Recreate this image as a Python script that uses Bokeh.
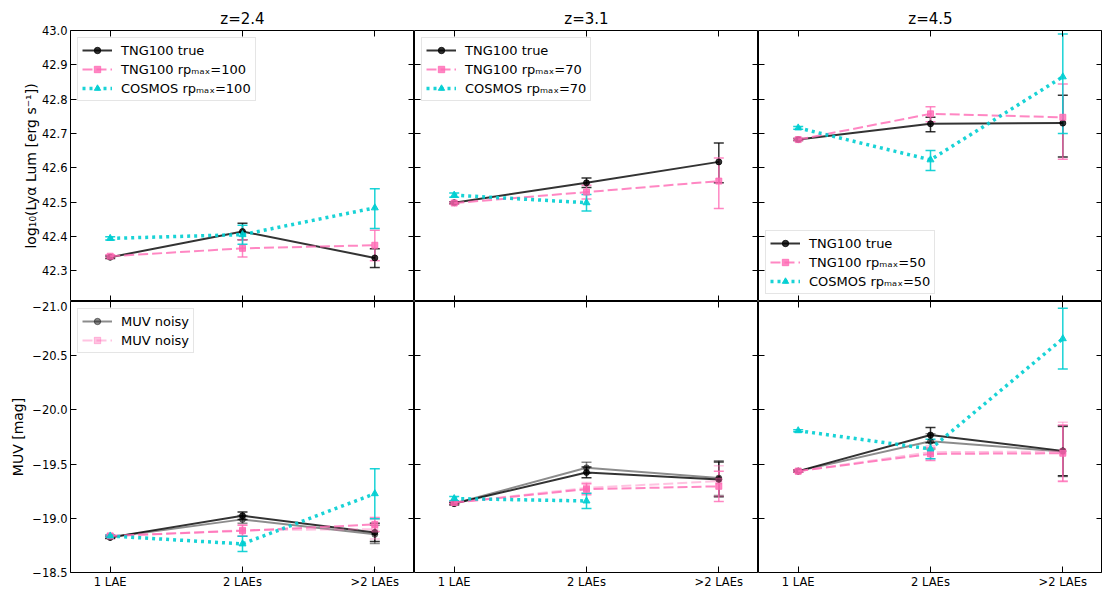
import math
from bokeh.plotting import figure
from bokeh.models import (Range1d, LinearAxis, FixedTicker, ColumnDataSource,
                          Whisker, TeeHead, Legend, LegendItem)
from bokeh.layouts import gridplot
from bokeh.embed import file_html
from bokeh.resources import INLINE

# ---------------- data ----------------
categories = ["1 LAE", "2 LAEs", ">2 LAEs"]
panel_titles = ["z=2.4", "z=3.1", "z=4.5"]
rp_max_values = ["100", "70", "50"]

lum_ticks = [42.3, 42.4, 42.5, 42.6, 42.7, 42.8, 42.9, 43.0]
lum_tick_labels = ["42.3", "42.4", "42.5", "42.6", "42.7", "42.8", "42.9", "43.0"]
muv_ticks = [-21.0, -20.5, -20.0, -19.5, -19.0, -18.5]
muv_tick_labels = ["−21.0", "−20.5", "−20.0", "−19.5", "−19.0", "−18.5"]

nan = float("nan")

# log10(Lya Lum) — one inner list per redshift panel
lum_true = [[42.339, 42.414, 42.337], [42.498, 42.556, 42.617], [42.682, 42.728, 42.730]]
lum_true_lo = [[0.004, 0.024, 0.028], [0.003, 0.014, 0.061], [0.003, 0.023, 0.099]]
lum_true_hi = [[0.004, 0.024, 0.027], [0.003, 0.014, 0.055], [0.003, 0.019, 0.081]]
lum_rp = [[42.342, 42.365, 42.374], [42.497, 42.529, 42.561], [42.682, 42.757, 42.747]]
lum_rp_lo = [[0.004, 0.025, 0.045], [0.003, 0.020, 0.080], [0.003, 0.023, 0.122]]
lum_rp_hi = [[0.004, 0.025, 0.044], [0.003, 0.020, 0.067], [0.003, 0.021, 0.097]]
lum_cosmos = [[42.394, 42.405, 42.483], [42.520, 42.498, nan], [42.716, 42.623, 42.865]]
lum_cosmos_lo = [[0.005, 0.028, 0.060], [0.006, 0.024, nan], [0.004, 0.031, 0.165]]
lum_cosmos_hi = [[0.005, 0.027, 0.056], [0.006, 0.024, nan], [0.004, 0.027, 0.125]]

# MUV [mag]
muv_true = [[-18.824, -19.023, -18.870], [-19.136, -19.423, -19.359], [-19.435, -19.768, -19.622]]
muv_true_err = [[0.01, 0.035, 0.085], [0.01, 0.05, 0.16], [0.01, 0.07, 0.23]]
muv_noisy = [[-18.825, -18.990, -18.852], [-19.136, -19.466, -19.371], [-19.435, -19.710, -19.616]]
muv_noisy_err = [[0.01, 0.035, 0.085], [0.01, 0.05, 0.16], [0.01, 0.07, 0.23]]
muv_rp = [[-18.837, -18.885, -18.943], [-19.145, -19.268, -19.295], [-19.435, -19.594, -19.600]]
muv_rp_err = [[0.01, 0.05, 0.065], [0.01, 0.05, 0.14], [0.01, 0.06, 0.26]]
muv_rp_noisy = [[-18.837, -18.890, -18.900], [-19.145, -19.280, -19.344], [-19.435, -19.610, -19.616]]
muv_rp_noisy_err = [[0.01, 0.05, 0.09], [0.01, 0.05, 0.14], [0.01, 0.06, 0.27]]
muv_cosmos = [[-18.837, -18.764, -19.227], [-19.182, -19.160, nan], [-19.808, -19.640, -20.657]]
muv_cosmos_err = [[0.01, 0.07, 0.23], [0.02, 0.07, nan], [0.01, 0.09, 0.28]]

# ---------------- styling ----------------
FONT = "DejaVu Sans"
FW, FH = 344, 271
LEFT_BORDER, TOP_BORDER = 70, 30
X_LIM = (-0.3, 2.3)
LUM_LIM = (42.21, 43.0)
MUV_LIM = (-18.5, -21.0)

TRUE_C, TRUE_A = "black", 0.8
RP_C, RP_A = "hotpink", 0.8
COS_C, COS_A = "darkturquoise", 0.9
NOISY_C, NOISY_A = "black", 0.45
RPN_C, RPN_A = "hotpink", 0.4


def style_axis(ax, show_labels):
    ax.major_tick_in = 6
    ax.major_tick_out = 0
    ax.minor_tick_line_color = None
    ax.axis_line_color = None
    ax.major_tick_line_color = "black"
    ax.major_tick_line_width = 1
    ax.major_label_text_font = FONT
    ax.major_label_standoff = 3
    ax.major_label_text_font_size = "11.5px"
    ax.major_label_text_color = "black" if show_labels else None
    ax.axis_label_text_font = FONT
    ax.axis_label_text_font_size = "14px"
    ax.axis_label_text_font_style = "normal"
    ax.axis_label_text_color = "black"
    ax.axis_label_standoff = 5


def add_series(p, vals, lo, hi, color, alpha, lw, dash, marker, msize):
    xs = [i for i, v in enumerate(vals) if not math.isnan(v)]
    src = ColumnDataSource(dict(
        x=xs,
        y=[vals[i] for i in xs],
        lower=[vals[i] - lo[i] for i in xs],
        upper=[vals[i] + hi[i] for i in xs],
    ))
    ln = p.line("x", "y", source=src, line_color=color, line_alpha=alpha,
                line_width=lw, line_dash=dash)
    pt = p.scatter("x", "y", source=src, marker=marker, size=msize,
                   fill_color=color, fill_alpha=alpha, line_color=color, line_alpha=alpha)
    head = dict(size=10, line_color=color, line_alpha=alpha, line_width=1.5)
    p.add_layout(Whisker(source=src, base="x", lower="lower", upper="upper",
                         line_color=color, line_alpha=alpha, line_width=1.5,
                         upper_head=TeeHead(**head), lower_head=TeeHead(**head)))
    return [ln, pt]


def make_legend(items, location):
    lg = Legend(items=[LegendItem(label=l, renderers=r) for l, r in items],
                location=location)
    lg.label_text_font = FONT
    lg.label_text_font_size = "13px"
    lg.label_text_color = "black"
    lg.glyph_width = 30
    lg.glyph_height = 16
    lg.label_height = 16
    lg.label_standoff = 9
    lg.spacing = 3
    lg.padding = 4
    lg.margin = 7
    lg.border_line_color = "#cccccc"
    lg.border_line_width = 1
    lg.background_fill_alpha = 0.8
    return lg


def make_panel(row, col):
    top = row == 0
    xr = Range1d(*X_LIM)
    yr = Range1d(*LUM_LIM) if top else Range1d(*MUV_LIM)
    p = figure(frame_width=FW, frame_height=FH, x_range=xr, y_range=yr,
               x_axis_location=None, y_axis_location=None,
               toolbar_location=None, output_backend="svg",
               title=panel_titles[col] if top else None)
    p.min_border = 0
    p.min_border_left = LEFT_BORDER if col == 0 else 0
    p.min_border_top = TOP_BORDER if top else 0
    p.min_border_right = 0
    p.min_border_bottom = 0
    p.xgrid.visible = False
    p.ygrid.visible = False
    p.outline_line_color = "black"
    p.outline_line_width = 1
    p.background_fill_color = "white"
    p.border_fill_color = "white"
    if top:
        p.title.align = "center"
        p.title.text_font = FONT
        p.title.text_font_size = "15px"
        p.title.text_font_style = "normal"
        p.title.text_color = "black"
        p.title.standoff = 5

    yt = lum_ticks if top else muv_ticks
    ytl = lum_tick_labels if top else muv_tick_labels
    x_over = {i: c for i, c in enumerate(categories)}

    # left axis
    la = LinearAxis(ticker=FixedTicker(ticks=yt), major_label_overrides=dict(zip(yt, ytl)))
    style_axis(la, col == 0)
    if col == 0:
        la.axis_label = "log₁₀(Lyα Lum [erg s⁻¹])" if top else "MUV [mag]"
        la.axis_label_standoff = 0 if top else 3
    else:
        la.fixed_location = X_LIM[0]
    p.add_layout(la, "left")
    # right axis (ticks only)
    ra = LinearAxis(ticker=FixedTicker(ticks=yt))
    style_axis(ra, False)
    ra.fixed_location = X_LIM[1]
    p.add_layout(ra, "right")
    # bottom axis
    ba = LinearAxis(ticker=FixedTicker(ticks=list(range(len(categories)))),
                    major_label_overrides=x_over)
    style_axis(ba, not top)
    if top:
        ba.fixed_location = LUM_LIM[0]
    ba.major_label_standoff = 2
    p.add_layout(ba, "below")
    # top axis (ticks only)
    ta = LinearAxis(ticker=FixedTicker(ticks=list(range(len(categories)))))
    style_axis(ta, False)
    ta.fixed_location = LUM_LIM[1] if top else MUV_LIM[1]
    p.add_layout(ta, "above")

    rp_label = "rpₘₐₓ=" + rp_max_values[col]
    if top:
        r_true = add_series(p, lum_true[col], lum_true_lo[col], lum_true_hi[col],
                            TRUE_C, TRUE_A, 2, "solid", "circle", 6)
        r_rp = add_series(p, lum_rp[col], lum_rp_lo[col], lum_rp_hi[col],
                          RP_C, RP_A, 2, "10 4", "square", 6)
        r_cos = add_series(p, lum_cosmos[col], lum_cosmos_lo[col], lum_cosmos_hi[col],
                           COS_C, COS_A, 3.5, "3 4", "triangle", 7)
        items = [("TNG100 true", r_true), ("TNG100 " + rp_label, r_rp),
                 ("COSMOS " + rp_label, r_cos)]
        p.add_layout(make_legend(items, "bottom_left" if col == 2 else "top_left"))
    else:
        r_true = add_series(p, muv_true[col], muv_true_err[col], muv_true_err[col],
                            TRUE_C, TRUE_A, 2, "solid", "circle", 6)
        r_noisy = add_series(p, muv_noisy[col], muv_noisy_err[col], muv_noisy_err[col],
                             NOISY_C, NOISY_A, 2, "solid", "circle", 6)
        r_rp = add_series(p, muv_rp[col], muv_rp_err[col], muv_rp_err[col],
                          RP_C, RP_A, 2, "10 4", "square", 6)
        r_rpn = add_series(p, muv_rp_noisy[col], muv_rp_noisy_err[col], muv_rp_noisy_err[col],
                           RPN_C, RPN_A, 2, "10 4", "square", 6)
        add_series(p, muv_cosmos[col], muv_cosmos_err[col], muv_cosmos_err[col],
                   COS_C, COS_A, 3.5, "3 4", "triangle", 7)
        if col == 0:
            p.add_layout(make_legend([("MUV noisy", r_noisy), ("MUV noisy", r_rpn)], "top_left"))
    return p


panels = [[make_panel(r, c) for c in range(3)] for r in range(2)]
grid = gridplot(panels, toolbar_location=None)

open("out.html", "w").write(file_html(grid, INLINE))
